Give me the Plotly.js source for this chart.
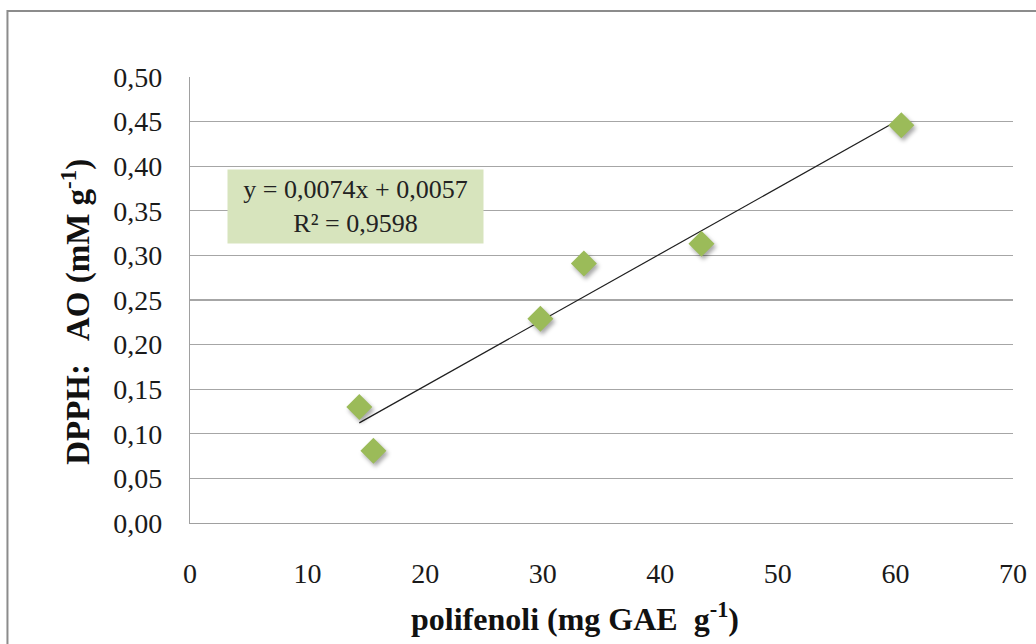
<!DOCTYPE html>
<html>
<head>
<meta charset="utf-8">
<script src="https://cdn.plot.ly/plotly-3.0.1.min.js"></script>
<style>
  html, body { margin: 0; padding: 0; background: #fff; }
  #chart { width: 1036px; height: 644px; }
  .scatterlayer .trace:nth-child(2) path.point { filter: drop-shadow(2px 3px 2px rgba(0,0,0,0.35)); }
</style>
</head>
<body>
<div id="chart"></div>
<script>
// Data
const polifenoli = [14.4, 15.6, 29.8, 33.5, 43.5, 60.5];     // mg GAE g-1
const dpphAO     = [0.130, 0.081, 0.229, 0.291, 0.313, 0.446]; // mM g-1
const trendSlope = 0.0074;
const trendIntercept = 0.0057;
const equationText = "y = 0,0074x + 0,0057<br>R\u00b2 = 0,9598";
const yTickVals = [0, 0.05, 0.10, 0.15, 0.20, 0.25, 0.30, 0.35, 0.40, 0.45, 0.50];
const xTickVals = [0, 10, 20, 30, 40, 50, 60, 70];

const xMin = Math.min(...polifenoli);
const xMax = Math.max(...polifenoli);
const trendX = [xMin, xMax];
const trendY = trendX.map(v => trendSlope * v + trendIntercept);

const serif = "'Liberation Serif', 'Times New Roman', serif";

const traces = [
  {
    x: trendX, y: trendY, type: "scatter", mode: "lines",
    line: { color: "#1f1f1f", width: 1.2 },
    hoverinfo: "skip", showlegend: false
  },
  {
    x: polifenoli, y: dpphAO, type: "scatter", mode: "markers",
    marker: { symbol: "diamond", size: 20, color: "#9BBB59", line: { width: 0 } },
    showlegend: false
  }
];

const layout = {
  width: 1036, height: 644,
  margin: { l: 190, r: 23, t: 77, b: 121 },
  paper_bgcolor: "#ffffff", plot_bgcolor: "#ffffff",
  separators: ", ",
  font: { family: serif, size: 28, color: "#1a1a1a" },
  showlegend: false,
  xaxis: {
    range: [0, 70], tickvals: xTickVals, ticktext: xTickVals.map(String),
    showgrid: false, zeroline: false,
    showline: true, linecolor: "#a0a0a0", linewidth: 1.2,
    ticks: "outside", ticklen: 25, tickcolor: "rgba(0,0,0,0)",
    tickfont: { family: serif, size: 28, color: "#1a1a1a" },
    fixedrange: true
  },
  yaxis: {
    range: [0, 0.5], tickvals: yTickVals, tickformat: ".2f",
    showgrid: true, gridcolor: "#a6a6a6", gridwidth: 1.2,
    zeroline: false,
    showline: true, linecolor: "#a0a0a0", linewidth: 1.2,
    ticks: "outside", ticklen: 21, tickcolor: "rgba(0,0,0,0)",
    tickfont: { family: serif, size: 28, color: "#1a1a1a" },
    fixedrange: true
  },
  shapes: [
    {
      type: "rect", xref: "paper", yref: "paper",
      x0: -0.2218, x1: 1.2, y0: -0.4, y1: 1.148,
      line: { color: "#8c8c8c", width: 2 }, fillcolor: "rgba(0,0,0,0)",
      layer: "below"
    }
  ],
  annotations: [
    {
      xref: "paper", yref: "paper", x: 0.2017, y: 0.7098,
      xanchor: "center", yanchor: "middle",
      text: equationText, showarrow: false, align: "center",
      bgcolor: "#D7E4BD", borderpad: 0, width: 255, height: 73,
      font: { family: serif, size: 26, color: "#222" }
    },
    {
      xref: "paper", yref: "paper", x: 0.468, y: -0.21,
      xanchor: "center", yanchor: "middle",
      text: "<b>polifenoli (mg GAE  g<sup>-1</sup>)</b>", showarrow: false,
      font: { family: serif, size: 32, color: "#111" }
    },
    {
      xref: "paper", yref: "paper", x: -0.1383, y: 0.474,
      xanchor: "center", yanchor: "middle", textangle: -90,
      text: "<b>DPPH:\u00a0\u00a0 AO (mM g<sup>-1</sup>)</b>", showarrow: false,
      font: { family: serif, size: 33, color: "#111" }
    }
  ]
};

Plotly.newPlot("chart", traces, layout, { displayModeBar: false, staticPlot: true });
</script>
</body>
</html>
